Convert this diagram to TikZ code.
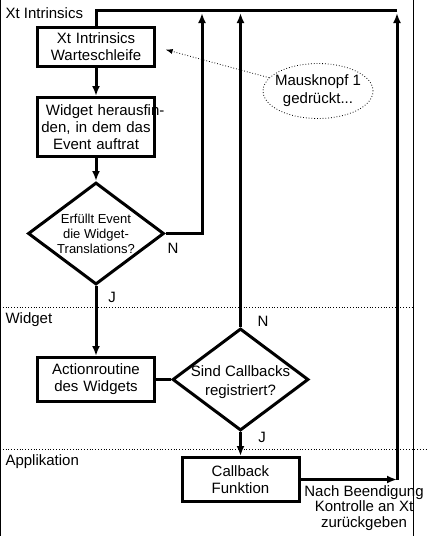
\documentclass[tikz,border=0pt]{standalone}
\usepackage{fontspec}
\setmainfont{Liberation Sans}
\usetikzlibrary{shapes,arrows.meta,positioning}
\tikzset{box node/.style={rectangle,draw,line width=3pt,text width=111pt,inner sep=3pt,align=center,font=\fontsize{15}{17}\selectfont},
decision node/.style={diamond,draw,line width=3pt,inner sep=0pt,minimum width=136pt,minimum height=102pt},
}
\tikzstyle{note node}=[ellipse,draw,dotted,line width=0.8pt,minimum width=110pt,minimum height=55pt]
\tikzstyle{label text}=[font=\fontsize{15}{17}\selectfont]
\tikzstyle{flow}=[line width=3pt,-{Latex[length=10pt,width=8pt]}]
\tikzstyle{plain}=[line width=3pt]
\tikzstyle{lane}=[dotted,line width=0.8pt]

\begin{document}
\begin{tikzpicture}[x=1pt,y=-1pt]
		\useasboundingbox (0,0) rectangle (427,536);
		% Rahmen und Bahnen
		\draw[line width=0.8pt] (0.5,0) -- (0.5,536);
		\draw[line width=0.8pt] (413,0) -- (413,536);
		\draw[lane] (0,307) -- (413,307);
		\draw[lane] (0,449) -- (427,449);
		\node[label text,anchor=west] (xtlane) at (2,13) {Xt Intrinsics};
		\node[label text,anchor=west] (widgetlane) at (2,320) {Widget};
		\node[label text,anchor=west] (applane) at (2,462) {Applikation};
		
		\node[box node,minimum height=39pt] (warte) at (96,47) {Xt Intrinsics\\Warteschleife};
		\node[box node,minimum height=59pt] (herausfinden) [below = 28pt of warte] {\makebox[100pt][l]{Widget herausfin-}\\den, in dem das\\Event auftrat};
		\node[decision node] (erfuellt) [below = 23pt of herausfinden] {};
		\node[font=\fontsize{13}{15}\selectfont,align=center] (erfuellttext) at (erfuellt) {Erfüllt Event\\die Widget-\\Translations?};
		\node[box node,minimum height=44pt] (action) [below = 70pt of erfuellt] {Actionroutine\\des Widgets};
		\node[decision node] (callbacks) [right = 15pt of action] {};
		\node[font=\fontsize{15}{19}\selectfont,align=center] (callbackstext) at ([yshift=-3pt]callbacks.center) {Sind Callbacks\\registriert?};
		\node[box node,minimum height=44pt] (callback) [below = 24pt of callbacks] {Callback\\Funktion};
		\node[note node] (maus) at (318,91) {};
		\node[label text,align=center,font=\fontsize{15}{18}\selectfont] (maustext) at (maus) {Mausknopf 1\\gedrückt...};
		
		\coordinate (obenlinks) at (warte.north |- 0,10);
		\coordinate (obenrechts) at (397,10);
		\coordinate (rueckecke) at (callback.east -| 397,0);
		\coordinate (rueckspitze) at (397,13);
		\coordinate (nein1spitze) at (202,13);
		\coordinate (nein2spitze) at (callbacks.north |- 0,13);
		
		\draw[flow] (warte) -- (herausfinden);
		\draw[flow] (herausfinden) -- (erfuellt);
		\draw[flow] (erfuellt) -- (action);
		\draw[flow] (erfuellt.east) -| (nein1spitze);
		\draw[plain] (action) -- (callbacks);
		\draw[flow] (callbacks) -- (callback);
		\draw[flow] (callbacks.north) -- (nein2spitze);
		\draw[flow] (callback.east) -- (rueckecke);
		\draw[flow] (rueckecke) -- (rueckspitze);
		\draw[plain] (obenrechts) -- (obenlinks) -- (warte.north);
		\draw[dotted,line width=0.8pt,-{Latex[length=7pt,width=5pt]},shorten >=10pt] (maus) -- (warte.east);
		
		\node[label text] (nein1) at (173,248) {N};
		\node[label text] (ja1) at (112,297) {J};
		\node[label text] (nein2) at (263,321) {N};
		\node[label text] (ja2) at (262,437) {J};
		\node[align=center,font=\fontsize{15}{15.5}\selectfont] (beendigung) at (364,508) {Nach Beendigung\\Kontrolle an Xt\\zurückgeben};
		\end{tikzpicture}
\end{document}
